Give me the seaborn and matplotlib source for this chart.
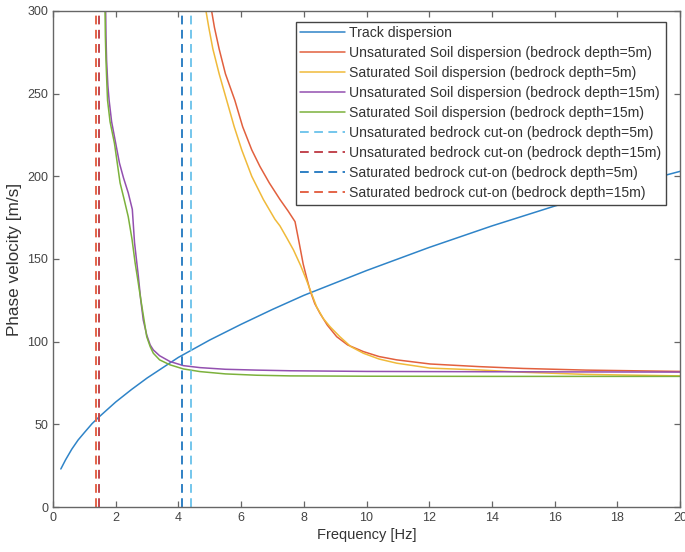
import matplotlib
matplotlib.use("Agg")
import matplotlib.pyplot as plt
import seaborn as sns
import pandas as pd

# Track dispersion curve
track_f = [0.25, 0.4, 0.6, 0.8, 1.0, 1.25, 1.5, 2.0, 2.5, 3.0, 4.0, 5.0, 6.0, 7.0, 8.0, 10.0, 12.0, 14.0, 16.0, 18.0, 20.0]
track_c = [23, 28.5, 35, 40.5, 45, 50.5, 55, 63.5, 71, 78, 90.5, 101, 110.5, 119.5, 128, 143, 157, 170, 182, 193, 203]

# Soil dispersion, bedrock depth 5 m
unsat5_f = [5.06, 5.15, 5.3, 5.5, 5.8, 6.05, 6.34, 6.6, 6.9, 7.24, 7.5, 7.72, 7.85, 7.98, 8.1, 8.2,
            8.35, 8.52, 8.75, 9.05, 9.4, 9.9, 10.4, 10.96, 12.03, 13.6, 15.0, 17.0, 20.0]
unsat5_c = [300, 290, 277, 262, 246, 230, 216, 206, 196, 186, 179, 172.6, 160, 147, 138, 131,
            123, 117, 110, 103, 98, 94, 91, 89, 86.5, 84.9, 83.8, 82.8, 82]
sat5_f = [4.88, 4.97, 5.1, 5.3, 5.54, 5.78, 6.02, 6.34, 6.71, 7.08, 7.24, 7.45, 7.67, 7.9, 8.09, 8.25,
          8.41, 8.62, 8.84, 9.15, 9.5, 9.9, 10.4, 10.96, 12.03, 13.6, 15.0, 17.0, 20.0]
sat5_c = [300, 290, 277, 262, 246, 230, 216, 200, 186, 174, 170, 163, 155.5, 146, 137, 129,
          121, 114, 109, 103, 97, 93, 89.5, 87, 84, 82.9, 81.5, 80.2, 79.3]

# Soil dispersion, bedrock depth 15 m
unsat15_f = [1.68, 1.69, 1.71, 1.75, 1.79, 1.87, 2.0, 2.12, 2.25, 2.4, 2.53, 2.6, 2.66, 2.72, 2.8,
             2.88, 2.99, 3.1, 3.2, 3.4, 3.73, 4.16, 4.69, 5.5, 6.5, 7.56, 10.0, 14.0, 20.0]
unsat15_c = [300, 285, 270, 255, 246, 233, 220, 208, 199, 190, 180, 160, 150, 140, 125,
             113, 104, 98, 95, 91.5, 88, 85.5, 84.3, 83.3, 82.8, 82.4, 82, 81.8, 81.6]
sat15_f = [1.66, 1.67, 1.69, 1.72, 1.74, 1.82, 1.96, 2.05, 2.14, 2.27, 2.4, 2.52, 2.62, 2.7, 2.78,
           2.88, 2.99, 3.1, 3.2, 3.4, 3.73, 4.16, 4.69, 5.5, 6.5, 7.56, 10.0, 14.0, 20.0]
sat15_c = [300, 285, 270, 255, 246, 233, 220, 208, 196, 186, 175.6, 162, 147.6, 138, 128,
           116, 103, 97, 93, 89, 86, 83.5, 81.9, 80.5, 79.7, 79.3, 79.1, 79, 79]

# Bedrock cut-on frequencies [Hz]
cuton_labels = [
    "Unsaturated bedrock cut-on (bedrock depth=5m)",
    "Unsaturated bedrock cut-on (bedrock depth=15m)",
    "Saturated bedrock cut-on (bedrock depth=5m)",
    "Saturated bedrock cut-on (bedrock depth=15m)",
]
cuton_freqs = [4.40, 1.47, 4.10, 1.37]
cuton_colors = ["#74C6EC", "#C2454F", "#2F80C4", "#E46448"]

curve_labels = [
    "Track dispersion",
    "Unsaturated Soil dispersion (bedrock depth=5m)",
    "Saturated Soil dispersion (bedrock depth=5m)",
    "Unsaturated Soil dispersion (bedrock depth=15m)",
    "Saturated Soil dispersion (bedrock depth=15m)",
]
curve_colors = ["#2F84C8", "#E2603E", "#F0BA3A", "#9350B0", "#7CB13C"]
curve_data = [
    (track_f, track_c),
    (unsat5_f, unsat5_c),
    (sat5_f, sat5_c),
    (unsat15_f, unsat15_c),
    (sat15_f, sat15_c),
]

sns.set_theme(style="ticks")
plt.rcParams["font.family"] = ["Liberation Sans", "DejaVu Sans"]

fig = plt.figure(figsize=(6.85, 5.52), dpi=100)
ax = fig.add_axes([53 / 685, 1 - 507 / 552, 627 / 685, 496 / 552])

handles = []
for (f, c), lab, col in zip(curve_data, curve_labels, curve_colors):
    df = pd.DataFrame({"Frequency": f, "Velocity": c})
    sns.lineplot(data=df, x="Frequency", y="Velocity", color=col, lw=1.1,
                 sort=False, estimator=None, ax=ax, legend=False)
    handles.append(ax.lines[-1])
    handles[-1].set_label(lab)

for fq, lab, col in zip(cuton_freqs, cuton_labels, cuton_colors):
    ln = ax.axvline(fq, color=col, lw=1.4, ls=(0, (4.5, 2.8)), label=lab)
    handles.append(ln)

ax.set_xlim(0, 20)
ax.set_ylim(0, 300)
ax.set_xticks(range(0, 21, 2))
ax.set_yticks(range(0, 301, 50))
ax.set_xlabel("Frequency [Hz]", fontsize=10.5, color="#333333", labelpad=3)
ax.set_ylabel("Phase velocity [m/s]", fontsize=12.3, color="#333333", labelpad=4)

for sp in ax.spines.values():
    sp.set_color("#666666")
    sp.set_linewidth(1.0)
ax.tick_params(direction="in", top=True, right=True, length=4, width=0.9,
               color="#666666", labelcolor="#444444", labelsize=9)

leg = ax.legend(handles=handles, loc="upper right", bbox_to_anchor=(0.977, 0.978),
                borderaxespad=0, fontsize=10.1, frameon=True, fancybox=False,
                edgecolor="#444444", framealpha=1, handlelength=3.2,
                handletextpad=0.3, labelspacing=0.43, borderpad=0.3)
leg.get_frame().set_linewidth(1.0)
for t in leg.get_texts():
    t.set_color("#333333")

fig.savefig("out.png", dpi=100)
